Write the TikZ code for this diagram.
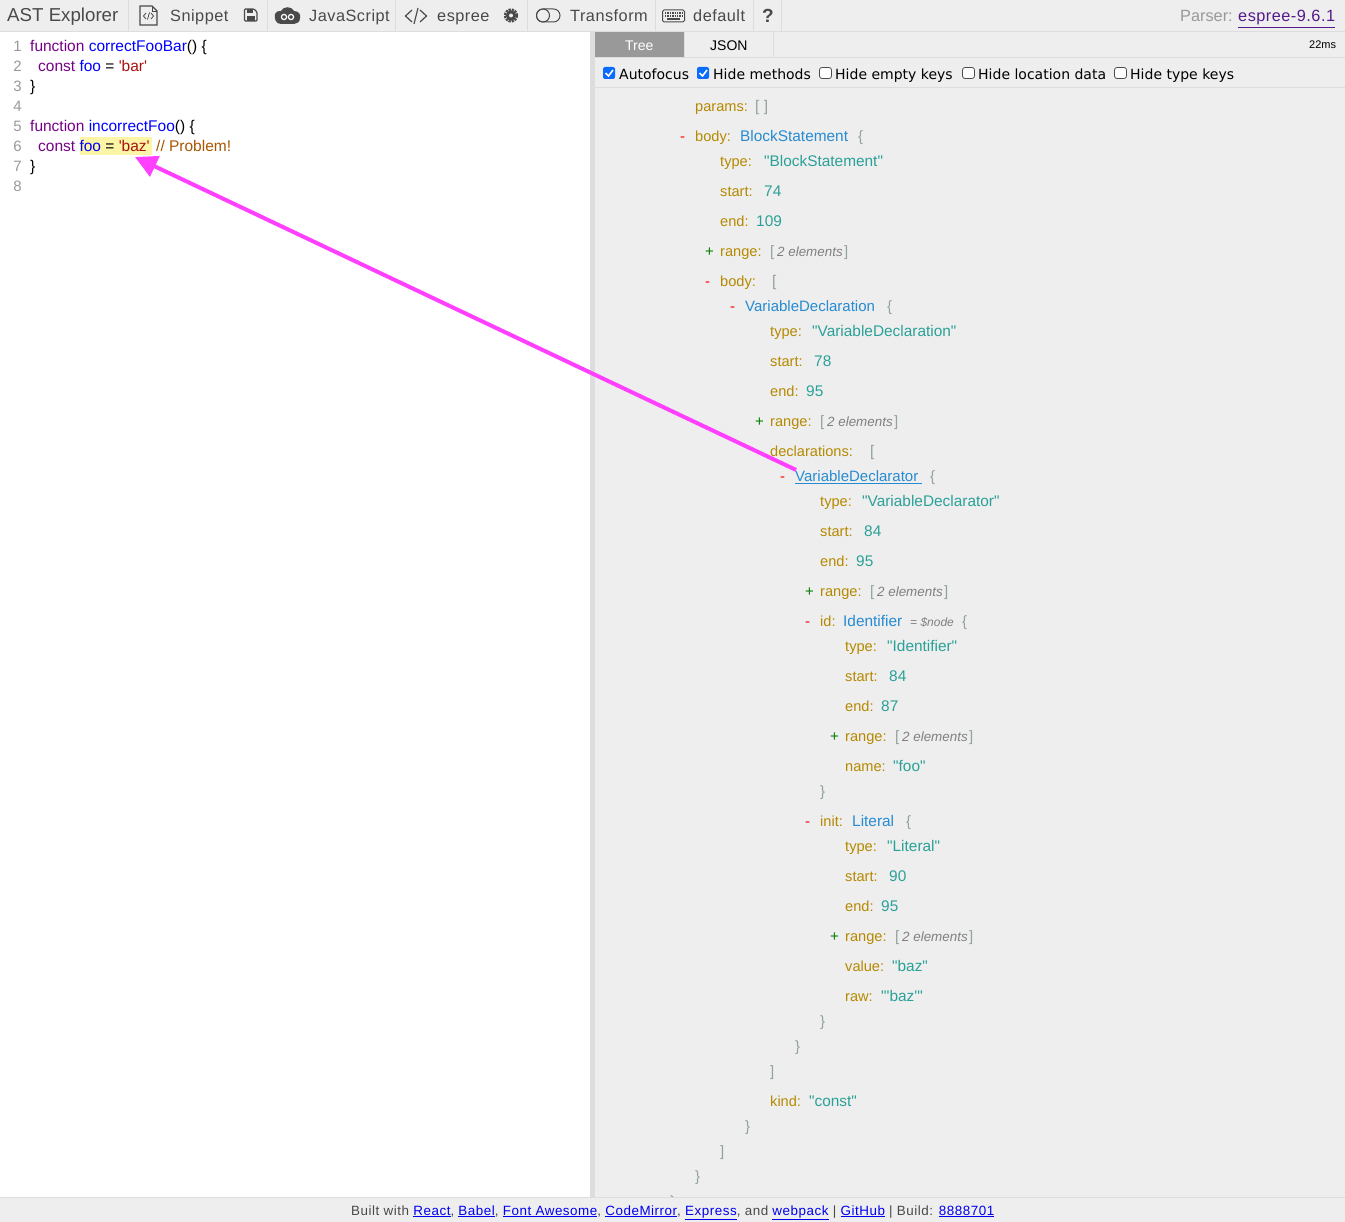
\documentclass[tikz,border=0pt]{standalone}
\usepackage{fontspec}
\setmainfont{Liberation Sans}
\newfontfamily\pf{Liberation Sans}
\newfontfamily\tbfont[LetterSpace=3]{Liberation Sans}
\newfontfamily\ftfont[LetterSpace=4]{Liberation Sans}
\newfontfamily\optfont{DejaVu Sans}
\usetikzlibrary{arrows.meta}
\definecolor{keyc}{HTML}{B58900}
\definecolor{valc}{HTML}{2AA198}
\definecolor{typec}{HTML}{268BD2}
\definecolor{brc}{HTML}{93A1A1}
\definecolor{paneg}{HTML}{EEEEEE}
\definecolor{lineg}{HTML}{DDDDDD}
\definecolor{tbtext}{HTML}{4A4A4A}
\definecolor{kwc}{HTML}{770088}
\definecolor{defc}{HTML}{0000FF}
\definecolor{strc}{HTML}{AA1111}
\definecolor{cmtc}{HTML}{AA5500}
\definecolor{numc}{HTML}{999999}
\definecolor{hlc}{HTML}{FDF5A6}
\definecolor{arrc}{HTML}{FF40FF}
\definecolor{plusc}{HTML}{008000}
\definecolor{cbblue}{HTML}{0A6CFF}
\definecolor{linkc}{HTML}{0000EE}
\definecolor{visc}{HTML}{551A8B}
\tikzset{
  x=1pt,y=-1pt,
  txt/.style={inner sep=0pt,anchor=base west,font=\pf\fontsize{15}{16}\selectfont},
  keytxt/.style={txt,font=\pf\fontsize{14.6}{16}\selectfont},
  valtxt/.style={txt,font=\pf\fontsize{15.4}{16}\selectfont},
  tb/.style={inner sep=0pt,anchor=base west,text=tbtext,font=\tbfont\fontsize{16.3}{20}\selectfont},
  code/.style={inner sep=0pt,anchor=base west,font=\pf\fontsize{15.5}{18}\selectfont},
  lnum/.style={inner sep=0pt,anchor=base east,text=numc,font=\pf\fontsize{15}{18}\selectfont},
  opt/.style={inner sep=0pt,anchor=base west,text=black,font=\optfont\fontsize{14}{16}\selectfont},
  sepline/.style={draw=lineg,line width=1pt},
  icon/.style={draw=tbtext,line width=1.2pt,fill=none},
  cbon/.style={fill=cbblue,rounded corners=2pt},
  cboff/.style={draw=black!70,fill=white,line width=.8pt,rounded corners=2.5pt},
  pointer/.style={draw=arrc,line width=4pt,-{Triangle[length=22pt,width=22pt]}},
}
\newcount\nn
\newcommand{\T}[4]{\global\advance\nn by 1 \node[txt,text=#3,name=n\the\nn] at (#1,#2+5.5) {#4};}
\newcommand{\K}[3]{\global\advance\nn by 1 \node[keytxt,text=keyc,name=n\the\nn] at (#1,#2+5.5) {#3};}
\newcommand{\V}[4]{\global\advance\nn by 1 \node[valtxt,text=#3,name=n\the\nn] at (#1,#2+5.5) {#4};}
\newcommand{\KV}[6]{\K{#1}{#2}{#3}\V{#4}{#2}{#5}{#6}}
\newcommand{\MI}[2]{\T{#1}{#2}{red}{-}}
\newcommand{\PL}[2]{\T{#1}{#2}{plusc}{+}}
\newcommand{\BR}[3]{\T{#1}{#2}{brc}{#3}}
\newcommand{\RNG}[2]{\PL{#1-15}{#2}\K{#1}{#2}{range:}\BR{#1+50}{#2}{[}%
  \global\advance\nn by 1 \node[txt,text=gray,name=n\the\nn,font=\pf\itshape\fontsize{13.4}{16}\selectfont] at (#1+57,#2+5.5) {2 elements};\BR{#1+124}{#2}{]}}
\begin{document}
\begin{tikzpicture}
\useasboundingbox (0,0) rectangle (1345,1222);
% panes
\fill[white] (0,0) rectangle (1345,1222);
\fill[paneg] (0,0) rectangle (1345,31);
\fill[paneg] (595,32) rectangle (1345,1197);
\fill[lineg] (590,32) rectangle (595,1197);
\draw[sepline] (0,31.5) -- (1345,31.5);
\foreach \sx in {128.5,267.5,395.5,527.5,655.5,753.5,781.5} \draw[sepline] (\sx,0) -- (\sx,31);
% tabs
\fill[black!40] (595,32) rectangle (684,57);
\draw[sepline] (595,57.5) -- (1345,57.5);
\draw[sepline] (595,87.5) -- (1345,87.5);
\draw[sepline] (684.5,32) -- (684.5,57);
\draw[sepline] (773.5,32) -- (773.5,57);
\node[code,text=white,font=\pf\fontsize{14}{16}\selectfont] (tabtree) at (625,50.5) {Tree};
\node[code,text=black,font=\pf\fontsize{14}{16}\selectfont] (tabjson) at (710,50.5) {JSON};
\node[code,text=black,font=\pf\fontsize{11}{12}\selectfont] (timing) at (1309,48.5) {22ms};
% toolbar text
\node[tb,font=\pf\fontsize{18.7}{22}\selectfont] (brand) at (7,22) {AST Explorer};
\node[tb] (snippet) at (170,22) {Snippet};
\node[tb] (lang) at (309,22) {JavaScript};
\node[tb] (parser) at (437,22) {espree};
\node[tb] (transform) at (570,22) {Transform};
\node[tb] (kbd) at (693,22) {default};
\node[tb,font=\pf\bfseries\fontsize{19}{22}\selectfont] (help) at (762,22.5) {?};
\node[tb,text=numc,font=\pf\fontsize{16.3}{20}\selectfont] (parserlab) at (1180,22) {Parser:};
\node[tb,text=visc] (parserlink) at (1238,22) {\underline{espree-9.6.1}};
% toolbar icons
\draw[icon] (140,6) -- (152,6) -- (157,11) -- (157,25) -- (140,25) -- cycle;
\draw[icon,line width=.8pt] (152,6) -- (152,11) -- (157,11);
\draw[icon,line width=.8pt] (146,13) -- (143.5,16) -- (146,19) (151,13) -- (153.5,16) -- (151,19) (149.5,12.5) -- (147.5,19.5);
\draw[icon,rounded corners=1pt] (244.5,9) -- (254,9) -- (257,12) -- (257,21) -- (244.5,21) -- cycle;
\fill[tbtext] (247,9) rectangle (253,13);
\fill[tbtext] (247,16) rectangle (254.5,21);
\fill[tbtext] (275,14) .. controls (276,11) and (279,11) .. (281,11) .. controls (283,6) and (292,6) .. (294,11) .. controls (299,11) and (301,15) .. (300,18) .. controls (300,22) and (297,24) .. (294,24) -- (281,24) .. controls (276,24) and (274,19) .. (275,14) -- cycle;
\draw[white,line width=1.2pt] (284,17) circle (2.6pt) (291,17) circle (2.6pt);
\draw[icon] (412,10) -- (405.5,16) -- (412,22) (420,10) -- (426.5,16) -- (420,22) (418,8) -- (414,24);
\draw[tbtext,line width=2.2pt,densely dotted] (511,15.5) circle (6pt);
\fill[tbtext] (511,15.5) circle (5.2pt);
\fill[paneg] (511,15.5) circle (2pt);
\draw[icon,line width=1pt,rounded corners=6.4pt] (536.5,9) rectangle (560,22);
\draw[icon,line width=1pt] (543,15.5) circle (6.5pt);
\draw[icon,line width=1pt,rounded corners=1.5pt] (662.5,10) rectangle (684.5,22);
\draw[tbtext,line width=1.6pt,dash pattern=on 1.4pt off 1pt] (665,13) -- (682,13);
\draw[tbtext,line width=1.6pt,dash pattern=on 1.4pt off 1pt] (665,16) -- (682,16);
\draw[tbtext,line width=1.6pt] (667,19.3) -- (680,19.3);
% options
\fill[cbon] (603,67) rectangle (615,79);
\draw[white,line width=1.6pt] (605.5,73) -- (608.5,76) -- (613,70);
\node[opt] (oauto) at (619,79.5) {Autofocus};
\fill[cbon] (697,67) rectangle (709,79);
\draw[white,line width=1.6pt] (699.5,73) -- (702.5,76) -- (707,70);
\node[opt] (omethods) at (713,79.5) {Hide methods};
\draw[cboff] (819.5,67.5) rectangle (831.5,78.5);
\node[opt] (oempty) at (835,79.5) {Hide empty keys};
\draw[cboff] (962.5,67.5) rectangle (974.5,78.5);
\node[opt] (oloc) at (978,79.5) {Hide location data};
\draw[cboff] (1114.5,67.5) rectangle (1126.5,78.5);
\node[opt] (otype) at (1130,79.5) {Hide type keys};
% code
\node[fill=hlc,minimum width=72pt,minimum height=18pt,inner sep=0pt,anchor=north west] (hl) at (79.5,137) {};
\foreach \ln/\ly in {1/51.5,2/71.5,3/91.5,4/111.5,5/131.5,6/151.5,7/171.5,8/191.5}
  \node[lnum] (ln\ln) at (22,\ly) {\ln};
\node[code] (c1) at (30,51.5) {\textcolor{kwc}{function} \textcolor{defc}{correctFooBar}() \{};
\node[code] (c2) at (38,71.5) {\textcolor{kwc}{const} \textcolor{defc}{foo} = \textcolor{strc}{'bar'}};
\node[code] (c3) at (30,91.5) {\}};
\node[code] (c5) at (30,131.5) {\textcolor{kwc}{function} \textcolor{defc}{incorrectFoo}() \{};
\node[code] (c6) at (38,151.5) {\textcolor{kwc}{const} \textcolor{defc}{foo} = \textcolor{strc}{'baz'}};
\node[code,text=cmtc] (c6b) at (156,151.5) {// Problem!};
\node[code] (c7) at (30,171.5) {\}};
% tree
\KV{695}{106}{params:}{755}{brc}{[ ]}
\MI{680}{136}\KV{695}{136}{body:}{740}{typec}{BlockStatement}\BR{858}{136}{\{}
\KV{720}{161}{type:}{764}{valc}{"BlockStatement"}
\KV{720}{191}{start:}{764}{valc}{74}
\KV{720}{221}{end:}{756}{valc}{109}
\RNG{720}{251}
\MI{705}{281}\KV{720}{281}{body:}{772}{brc}{[}
\MI{730}{306}\T{745}{306}{typec}{VariableDeclaration}\BR{887}{306}{\{}
\KV{770}{331}{type:}{812}{valc}{"VariableDeclaration"}
\KV{770}{361}{start:}{814}{valc}{78}
\KV{770}{391}{end:}{806}{valc}{95}
\RNG{770}{421}
\MI{755}{451}\KV{770}{451}{declarations:}{870}{brc}{[}
\MI{780}{476}\node[txt,text=typec] (vd) at (795,481.5) {\underline{VariableDeclarator\ }};\BR{930}{476}{\{}
\KV{820}{501}{type:}{862}{valc}{"VariableDeclarator"}
\KV{820}{531}{start:}{864}{valc}{84}
\KV{820}{561}{end:}{856}{valc}{95}
\RNG{820}{591}
\MI{805}{621}\KV{820}{621}{id:}{843}{typec}{Identifier}
\global\advance\nn by 1 \node[txt,text=gray,name=n\the\nn,font=\pf\itshape\fontsize{12}{14}\selectfont] at (910,626.5) {= \$node};\BR{962}{621}{\{}
\KV{845}{646}{type:}{887}{valc}{"Identifier"}
\KV{845}{676}{start:}{889}{valc}{84}
\KV{845}{706}{end:}{881}{valc}{87}
\RNG{845}{736}
\KV{845}{766}{name:}{893}{valc}{"foo"}
\BR{820}{791}{\}}
\MI{805}{821}\KV{820}{821}{init:}{852}{typec}{Literal}\BR{906}{821}{\{}
\KV{845}{846}{type:}{887}{valc}{"Literal"}
\KV{845}{876}{start:}{889}{valc}{90}
\KV{845}{906}{end:}{881}{valc}{95}
\RNG{845}{936}
\KV{845}{966}{value:}{892}{valc}{"baz"}
\KV{845}{996}{raw:}{881}{valc}{"'baz'"}
\BR{820}{1021}{\}}
\BR{795}{1046}{\}}
\BR{770}{1071}{]}
\KV{770}{1101}{kind:}{809}{valc}{"const"}
\BR{745}{1126}{\}}
\BR{720}{1151}{]}
\BR{695}{1176}{\}}
% footer
\fill[paneg] (0,1197) rectangle (1345,1222);
\draw[sepline] (0,1197.5) -- (1345,1197.5);
\draw[brc,line width=1pt] (670.5,1195.5) -- (673,1196.8);
\node[inner sep=0pt,anchor=base west,text=tbtext,font=\ftfont\fontsize{13.4}{15}\selectfont] (foot) at (351,1215)
 {Built with \textcolor{linkc}{\underline{React}}, \textcolor{linkc}{\underline{Babel}}, \textcolor{linkc}{\underline{Font Awesome}}, \textcolor{linkc}{\underline{CodeMirror}}, \textcolor{linkc}{\underline{Express}}, and \textcolor{linkc}{\underline{webpack}} | \textcolor{linkc}{\underline{GitHub}} | Build: \textcolor{linkc}{\underline{8888701}}};
% pointer
\coordinate (tip) at (135,157);
\draw[pointer] ([xshift=1pt,yshift=0.5pt]vd.north west) -- (tip);
\end{tikzpicture}
\end{document}
